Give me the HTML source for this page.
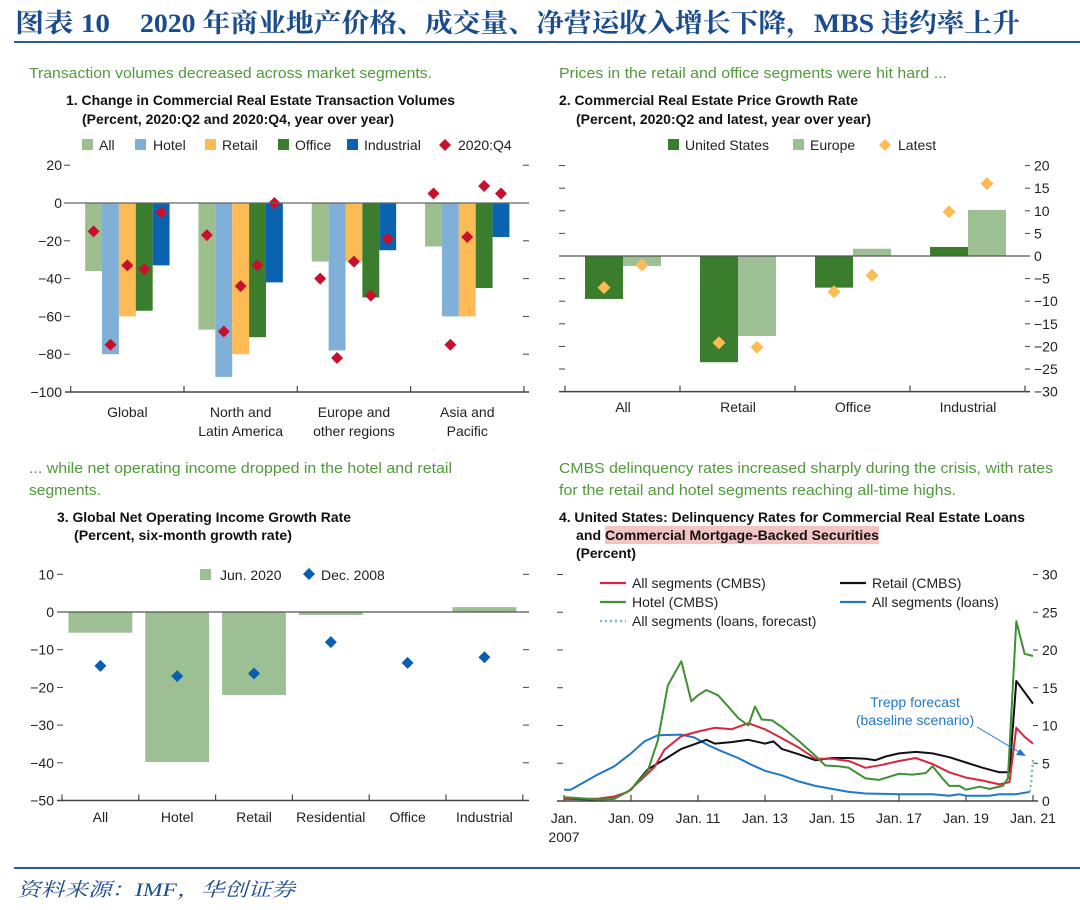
<!DOCTYPE html>
<html><head><meta charset="utf-8"><style>
html,body{margin:0;padding:0;background:#fff}
svg{display:block}
text{font-family:"Liberation Sans Narrow","Liberation Sans",sans-serif}
.g{fill:#4f9a3a;font-size:15px}
.t{fill:#111;font-size:14px;font-weight:bold}
.k{fill:#222;font-size:14px}
</style></head><body>
<svg id="s" width="1080" height="910" viewBox="0 0 1080 910" xmlns="http://www.w3.org/2000/svg">
<text x="15" y="32" textLength="95" lengthAdjust="spacingAndGlyphs" style="font-family:'Liberation Serif','Noto Serif CJK SC',serif;font-size:26px;font-weight:bold;fill:#1a4b8c">图表 10</text>
<text x="140" y="32" textLength="880" lengthAdjust="spacingAndGlyphs" style="font-family:'Liberation Serif','Noto Serif CJK SC',serif;font-size:26px;font-weight:bold;fill:#1a4b8c">2020 年商业地产价格、成交量、净营运收入增长下降，MBS 违约率上升</text>
<rect x="14" y="41" width="1066" height="2" fill="#2a5aa0"/>
<rect x="14" y="867" width="1066" height="2" fill="#2a5aa0"/>
<text x="17" y="896" textLength="278" lengthAdjust="spacingAndGlyphs" style="font-family:'Liberation Serif','Noto Serif CJK SC',serif;font-style:italic;font-size:19px;fill:#1a4b8c">资料来源：IMF，华创证券</text>

<text class="g" x="29" y="78" textLength="403" lengthAdjust="spacingAndGlyphs">Transaction volumes decreased across market segments.</text>
<text class="t" x="66" y="105" textLength="389" lengthAdjust="spacingAndGlyphs">1. Change in Commercial Real Estate Transaction Volumes</text>
<text class="t" x="82" y="124" textLength="312" lengthAdjust="spacingAndGlyphs">(Percent, 2020:Q2 and 2020:Q4, year over year)</text>

<text class="g" x="559" y="78" textLength="388" lengthAdjust="spacingAndGlyphs">Prices in the retail and office segments were hit hard ...</text>
<text class="t" x="559" y="105" textLength="299" lengthAdjust="spacingAndGlyphs">2. Commercial Real Estate Price Growth Rate</text>
<text class="t" x="576" y="124" textLength="295" lengthAdjust="spacingAndGlyphs">(Percent, 2020:Q2 and latest, year over year)</text>

<text class="g" x="29" y="473" textLength="423" lengthAdjust="spacingAndGlyphs">... while net operating income dropped in the hotel and retail</text>
<text class="g" x="29" y="495" textLength="72" lengthAdjust="spacingAndGlyphs">segments.</text>
<text class="t" x="57" y="522" textLength="294" lengthAdjust="spacingAndGlyphs">3. Global Net Operating Income Growth Rate</text>
<text class="t" x="74" y="540" textLength="218" lengthAdjust="spacingAndGlyphs">(Percent, six-month growth rate)</text>

<text class="g" x="559" y="473" textLength="494" lengthAdjust="spacingAndGlyphs">CMBS delinquency rates increased sharply during the crisis, with rates</text>
<text class="g" x="559" y="495" textLength="397" lengthAdjust="spacingAndGlyphs">for the retail and hotel segments reaching all-time highs.</text>
<text class="t" x="559" y="522" textLength="466" lengthAdjust="spacingAndGlyphs">4. United States: Delinquency Rates for Commercial Real Estate Loans</text>
<rect x="605" y="526" width="274" height="18" fill="#f2c4c4"/>
<text class="t" x="576" y="540" textLength="303" lengthAdjust="spacingAndGlyphs">and Commercial Mortgage-Backed Securities</text>
<text class="t" x="576" y="558" textLength="60" lengthAdjust="spacingAndGlyphs">(Percent)</text>
<g id="p1"></g><g id="p2"></g><g id="p3"></g><g id="p4"></g>
</svg>
<script>
// ---------- Panel 1 data ----------
const p1Regions = [["Global"],["North and","Latin America"],["Europe and","other regions"],["Asia and","Pacific"]];
const p1Segments = ["All","Hotel","Retail","Office","Industrial"];
const p1All = [-36,-67,-31,-23];
const p1Hotel = [-80,-92,-78,-60];
const p1Retail = [-60,-80,-31,-60];
const p1Office = [-57,-71,-50,-45];
const p1Industrial = [-33,-42,-25,-18];
const p1Q4 = [[-15,-75,-33,-35,-5],[-17,-68,-44,-33,0],[-40,-82,-31,-49,-19],[5,-75,-18,9,5]];
const p1Ticks = [20,0,-20,-40,-60,-80,-100];
// ---------- Panel 2 data ----------
const p2Cats = ["All","Retail","Office","Industrial"];
const p2US = [-9.5,-23.5,-7,2];
const p2Europe = [-2.2,-17.7,1.6,10.2];
const p2LatestUS = [-7,-19.2,-7.9,9.8];
const p2LatestEU = [-2,-20.2,-4.3,16];
const p2Ticks = [20,15,10,5,0,-5,-10,-15,-20,-25,-30];
// ---------- Panel 3 data ----------
const p3Cats = ["All","Hotel","Retail","Residential","Office","Industrial"];
const p3Jun2020 = [-5.5,-39.8,-22,-0.8,0,1.3];
const p3Dec2008 = [-14.3,-17,-16.3,-8,-13.5,-12];
const p3Ticks = [10,0,-10,-20,-30,-40,-50];
// ---------- Panel 4 data ----------
const p4HotelX = [2007,2007.4,2008,2008.5,2009,2009.5,2009.8,2010.1,2010.5,2010.8,2011,2011.25,2011.6,2011.9,2012.2,2012.5,2012.7,2012.9,2013.2,2013.5,2014,2014.5,2014.8,2015.2,2015.5,2016,2016.4,2017,2017.4,2017.8,2018,2018.3,2018.5,2018.8,2019,2019.4,2019.7,2020.1,2020.25,2020.5,2020.75,2021];
const p4HotelY = [0.5,0.4,0.2,0.3,1.5,4,8,15.3,18.5,13.2,14,14.7,14,12.5,11,10,12.5,10.8,10.7,9.8,8,6,4.7,4.6,4.4,3,2.8,3.6,3.5,3.7,4.6,3,2,2,1.5,1.9,1.6,2,3,23.8,19.5,19.2];
const p4AllX = [2007,2008,2008.5,2008.9,2009.3,2009.7,2010,2010.5,2011,2011.5,2012,2012.5,2013,2013.5,2014,2014.5,2015,2015.5,2016,2016.5,2017,2017.5,2018,2018.5,2019,2019.5,2020,2020.3,2020.5,2020.75,2021];
const p4AllY = [0.3,0.3,0.6,1.2,2.8,4.5,6.8,8.6,9.2,9.7,9.5,10.3,9.5,8.3,7.1,5.6,5.6,5.3,4.4,4.8,5.3,5.7,4.9,3.8,3.1,2.7,2.2,2.5,9.7,8.5,7.6];
const p4RetailX = [2007,2008,2008.5,2009,2009.5,2010,2010.5,2011,2011.25,2011.5,2012,2012.5,2013,2013.25,2013.5,2014,2014.5,2015,2015.5,2016,2016.3,2016.6,2017,2017.5,2018,2018.5,2019,2019.5,2020,2020.3,2020.5,2021];
const p4RetailY = [0.3,0.2,0.3,1.5,4.2,5.5,6.9,7.7,8.1,7.6,7.8,8.1,7.6,7.9,6.9,6.2,5.4,5.7,5.7,5.6,5.4,5.9,6.3,6.5,6.3,5.8,5.1,4.4,3.8,3.8,15.9,12.9];
const p4LoansX = [2007,2007.2,2008,2008.5,2009,2009.4,2009.8,2010.5,2010.9,2011.3,2011.7,2012.2,2012.6,2013,2013.5,2014,2014.5,2015,2015.5,2016,2017,2018,2018.5,2018.8,2019,2019.7,2020,2020.5,2020.9];
const p4LoansY = [1.5,1.5,3.5,4.6,6.3,7.9,8.7,8.8,8.4,7.4,6.6,5.7,4.8,4.0,3.4,2.6,2.0,1.6,1.2,1.0,0.9,0.9,0.7,0.9,0.7,0.7,0.9,0.9,1.2];
const p4ForecastX = [2020.9,2020.95,2021];
const p4ForecastY = [1.2,2.6,5.5];
const p4XTicks = [2007,2009,2011,2013,2015,2017,2019,2021];
const p4XLabels = ["Jan.","Jan. 09","Jan. 11","Jan. 13","Jan. 15","Jan. 17","Jan. 19","Jan. 21"];
const p4YTicks = [0,5,10,15,20,25,30];

const NS="http://www.w3.org/2000/svg";
function mk(parent,tag,at,txt){const e=document.createElementNS(NS,tag);for(const k in at)e.setAttribute(k,at[k]);if(txt!==undefined)e.textContent=txt;parent.appendChild(e);return e;}
function dia(parent,cx,cy,r,fill){return mk(parent,"polygon",{points:`${cx},${cy-r} ${cx+r},${cy} ${cx},${cy+r} ${cx-r},${cy}`,fill:fill});}
const AX="#444";

// ===== Panel 1 =====
(function(){
const g=document.getElementById("p1");
const y=v=>203-v*1.89;
const gx0=70.7,gw=113.3,bw=gw*0.745/5,pad=gw*0.1275;
const cols=["#9dbf90","#80b0d8","#fdbb55","#3a7d2c","#0a62b0"];
const series=[p1All,p1Hotel,p1Retail,p1Office,p1Industrial];
p1Ticks.forEach(t=>{
 let e=mk(g,"text",{x:62,y:y(t)+5,"text-anchor":"end",class:"k"},t<0?"\u2212"+(-t):String(t));
 
 if(t>-100){mk(g,"line",{x1:64,x2:70,y1:y(t),y2:y(t),stroke:AX,"stroke-width":1});
 mk(g,"line",{x1:523,x2:529,y1:y(t),y2:y(t),stroke:AX,"stroke-width":1});}
});
p1Regions.forEach((r,i)=>{
 series.forEach((s,j)=>{
  const v=s[i];const x=gx0+i*gw+pad+j*bw;
  let b=mk(g,"rect",{x:x,y:Math.min(y(0),y(v)),width:bw,height:Math.abs(y(v)-y(0)),fill:cols[j]});
  
 });
 p1Q4[i].forEach((v,j)=>{const d=dia(g,gx0+i*gw+pad+(j+0.5)*bw,y(v),6,"#c8102e");
  });
 const cx=gx0+(i+0.5)*gw;
 r.forEach((l,k)=>{let e=mk(g,"text",{x:cx,y:417+k*19,"text-anchor":"middle",class:"k"},l);
  });
});
mk(g,"line",{x1:65,x2:529,y1:y(0),y2:y(0),stroke:"#666","stroke-width":1.2});
mk(g,"line",{x1:65,x2:529,y1:y(-100),y2:y(-100),stroke:AX,"stroke-width":1.5});
for(let i=0;i<=4;i++)mk(g,"line",{x1:gx0+i*gw,x2:gx0+i*gw,y1:y(-100),y2:y(-100)-6,stroke:AX,"stroke-width":1.2});
const lg=[[82,99,"All"],[135,153,"Hotel"],[205,222,"Retail"],[278,295,"Office"],[347,364,"Industrial"]];
lg.forEach((l,j)=>{mk(g,"rect",{x:l[0],y:139,width:11,height:11,fill:cols[j]});
 let e=mk(g,"text",{x:l[1],y:150,class:"k"},l[2]);});
dia(g,445,145,6,"#c8102e");
let e=mk(g,"text",{x:458,y:150,class:"k"},"2020:Q4");
})();

// ===== Panel 2 =====
(function(){
const g=document.getElementById("p2");
const y=v=>256-v*4.52;
const gx0=565,gw=115,bw=38,pad=20;
p2Ticks.forEach(t=>{
 mk(g,"line",{x1:1025,x2:1030,y1:y(t),y2:y(t),stroke:AX,"stroke-width":1});
 if(t>-30)mk(g,"line",{x1:559,x2:565,y1:y(t),y2:y(t),stroke:AX,"stroke-width":1});
 let e=mk(g,"text",{x:1034,y:y(t)+5,class:"k"},t<0?"\u2212"+(-t):String(t));
 
});
p2Cats.forEach((c,i)=>{
 const x0=gx0+i*gw+pad;
 [[p2US,"#3a7d2c","bar-us"],[p2Europe,"#9dbf94","bar-europe"]].forEach((s,j)=>{
  const v=s[0][i];let b=mk(g,"rect",{x:x0+j*bw,y:Math.min(y(0),y(v)),width:bw,height:Math.abs(y(v)-y(0)),fill:s[1]});
  
 });
 let d=dia(g,x0+bw/2,y(p2LatestUS[i]),6.5,"#fdbb55");
 d=dia(g,x0+bw*1.5,y(p2LatestEU[i]),6.5,"#fdbb55");
 let e=mk(g,"text",{x:x0+bw,y:412,"text-anchor":"middle",class:"k"},c);
});
mk(g,"line",{x1:559,x2:1030,y1:y(0),y2:y(0),stroke:"#555","stroke-width":1.2});
mk(g,"line",{x1:559,x2:1030,y1:y(-30),y2:y(-30),stroke:AX,"stroke-width":1.5});
for(let i=0;i<=4;i++)mk(g,"line",{x1:gx0+i*gw,x2:gx0+i*gw,y1:y(-30),y2:y(-30)-6,stroke:AX,"stroke-width":1.2});
mk(g,"rect",{x:668,y:139,width:11,height:11,fill:"#3a7d2c"});
let e=mk(g,"text",{x:685,y:150,class:"k"},"United States");
mk(g,"rect",{x:793,y:139,width:11,height:11,fill:"#9dbf94"});
e=mk(g,"text",{x:810,y:150,class:"k"},"Europe");
dia(g,885,145,6,"#fdbb55");
e=mk(g,"text",{x:898,y:150,class:"k"},"Latest");
})();

// ===== Panel 3 =====
(function(){
const g=document.getElementById("p3");
const y=v=>612-v*3.77;
const gx0=62,gw=76.8,bw=63.8,pad=(gw-bw)/2;
p3Ticks.forEach(t=>{
 let e=mk(g,"text",{x:54,y:y(t)+5,"text-anchor":"end",class:"k"},t<0?"\u2212"+(-t):String(t));
 
 if(t>-50){mk(g,"line",{x1:57,x2:63,y1:y(t),y2:y(t),stroke:AX,"stroke-width":1});
 mk(g,"line",{x1:523,x2:529,y1:y(t),y2:y(t),stroke:AX,"stroke-width":1});}
});
p3Cats.forEach((c,i)=>{
 const x0=gx0+i*gw+pad,v=p3Jun2020[i];
 let b=mk(g,"rect",{x:x0,y:Math.min(y(0),y(v)),width:bw,height:Math.abs(y(v)-y(0)),fill:"#9dbf94"});
 
 let d=dia(g,x0+bw/2,y(p3Dec2008[i]),6,"#0a5eb0");
 let e=mk(g,"text",{x:x0+bw/2,y:822,"text-anchor":"middle",class:"k"},c);
});
mk(g,"line",{x1:57,x2:529,y1:y(0),y2:y(0),stroke:"#555","stroke-width":1.2});
mk(g,"line",{x1:57,x2:529,y1:y(-50),y2:y(-50),stroke:AX,"stroke-width":1.5});
for(let i=0;i<=6;i++)mk(g,"line",{x1:gx0+i*gw,x2:gx0+i*gw,y1:y(-50),y2:y(-50)-6,stroke:AX,"stroke-width":1.2});
mk(g,"rect",{x:200,y:569,width:11,height:11,fill:"#9dbf94"});
let e=mk(g,"text",{x:220,y:580,class:"k"},"Jun. 2020");
dia(g,309,574,6,"#0a5eb0");
e=mk(g,"text",{x:321,y:580,class:"k"},"Dec. 2008");
})();

// ===== Panel 4 =====
(function(){
const g=document.getElementById("p4");
const x=t=>564+(t-2007)*33.5, y=v=>801-v*7.55;
p4YTicks.forEach(t=>{
 mk(g,"line",{x1:1033,x2:1038,y1:y(t),y2:y(t),stroke:AX,"stroke-width":1});
 if(t>0)mk(g,"line",{x1:557,x2:563,y1:y(t),y2:y(t),stroke:AX,"stroke-width":1});
 let e=mk(g,"text",{x:1042,y:y(t)+5,class:"k"},String(t));
});
mk(g,"line",{x1:557,x2:1038,y1:y(0),y2:y(0),stroke:AX,"stroke-width":1.5});
p4XTicks.forEach((t,i)=>{
 mk(g,"line",{x1:x(t),x2:x(t),y1:y(0),y2:y(0)-6,stroke:AX,"stroke-width":1.2});
 let e=mk(g,"text",{x:x(t),y:823,"text-anchor":"middle",class:"k"},p4XLabels[i]);
});
let e0=mk(g,"text",{x:x(2007),y:842,"text-anchor":"middle",class:"k"},"2007");
function line(xs,ys,col,name,dash){const p=xs.map((t,i)=>(i?"L":"M")+x(t).toFixed(1)+","+y(ys[i]).toFixed(1)).join("");
 const at={d:p,fill:"none",stroke:col,"stroke-width":2,"stroke-linejoin":"round"};if(dash){at["stroke-dasharray"]="2,3";at["stroke-width"]=2.2;}
 const e=mk(g,"path",at);}
line(p4LoansX,p4LoansY,"#1f78c8","line-all-loans");
line(p4ForecastX,p4ForecastY,"#74aee0","line-loans-forecast",true);
line(p4RetailX,p4RetailY,"#111","line-retail-cmbs");
line(p4AllX,p4AllY,"#d7263d","line-all-cmbs");
line(p4HotelX,p4HotelY,"#3f8f35","line-hotel-cmbs");
const lg=[[600,583,"#d7263d","All segments (CMBS)"],[600,602,"#3f8f35","Hotel (CMBS)"],[600,621,"#74aee0","All segments (loans, forecast)",1],[840,583,"#111","Retail (CMBS)"],[840,602,"#1f78c8","All segments (loans)"]];
lg.forEach(l=>{const a={x1:l[0],x2:l[0]+26,y1:l[1],y2:l[1],stroke:l[2],"stroke-width":2.2};if(l[4])a["stroke-dasharray"]="2,3";mk(g,"line",a);
 let e=mk(g,"text",{x:l[0]+32,y:l[1]+5,class:"k"},l[3]);});
let e=mk(g,"text",{x:915,y:707,"text-anchor":"middle",class:"k",style:"fill:#1f78c8"},"Trepp forecast");
e=mk(g,"text",{x:915,y:725,"text-anchor":"middle",class:"k",style:"fill:#1f78c8"},"(baseline scenario)");
mk(g,"line",{x1:977,y1:727,x2:1019,y2:752,stroke:"#1f78c8","stroke-width":1});
mk(g,"polygon",{points:"1026,756 1016,755 1020,749",fill:"#1f78c8"});
})();
</script>
</body></html>
